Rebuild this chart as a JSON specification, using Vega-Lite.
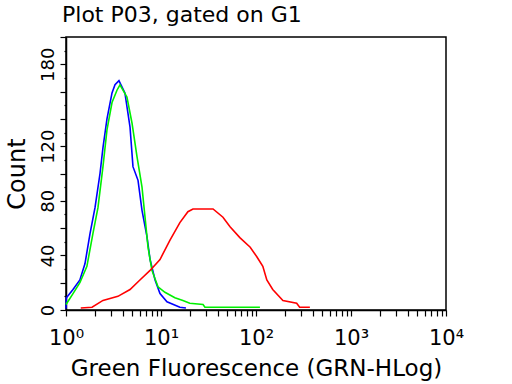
{
  "$schema": "https://vega.github.io/schema/vega-lite/v6.json",
  "width": 380,
  "height": 273,
  "autosize": "none",
  "padding": {"left": 66, "top": 37, "right": 66, "bottom": 74},
  "background": "white",
  "title": {"text": "Plot P03, gated on G1", "anchor": "start", "frame": "group", "dx": -4, "offset": 9, "font": "DejaVu Sans", "fontSize": 22, "fontWeight": "normal", "color": "black"},
  "config": {"view": {"stroke": "black", "strokeWidth": 1.5}},
  "data": {"values": [
    {"series": "blue", "v": 1.0, "count": 1},
    {"series": "blue", "v": 1.01, "count": 9},
    {"series": "blue", "v": 1.185, "count": 15},
    {"series": "blue", "v": 1.40, "count": 22},
    {"series": "blue", "v": 1.585, "count": 34},
    {"series": "blue", "v": 1.79, "count": 56},
    {"series": "blue", "v": 2.02, "count": 75},
    {"series": "blue", "v": 2.28, "count": 100},
    {"series": "blue", "v": 2.45, "count": 119},
    {"series": "blue", "v": 2.70, "count": 140},
    {"series": "blue", "v": 3.05, "count": 159},
    {"series": "blue", "v": 3.28, "count": 165},
    {"series": "blue", "v": 3.61, "count": 168},
    {"series": "blue", "v": 4.17, "count": 159},
    {"series": "blue", "v": 4.72, "count": 134},
    {"series": "blue", "v": 5.07, "count": 105},
    {"series": "blue", "v": 5.73, "count": 95},
    {"series": "blue", "v": 6.31, "count": 73},
    {"series": "blue", "v": 7.11, "count": 54},
    {"series": "blue", "v": 7.67, "count": 37},
    {"series": "blue", "v": 8.66, "count": 22},
    {"series": "blue", "v": 9.76, "count": 12},
    {"series": "blue", "v": 11.56, "count": 6},
    {"series": "blue", "v": 15.8, "count": 2},
    {"series": "blue", "v": 18.3, "count": 1.5},
    {"series": "green", "v": 1.0, "count": 4},
    {"series": "green", "v": 1.185, "count": 12},
    {"series": "green", "v": 1.40, "count": 20},
    {"series": "green", "v": 1.66, "count": 32},
    {"series": "green", "v": 1.92, "count": 56},
    {"series": "green", "v": 2.17, "count": 75},
    {"series": "green", "v": 2.45, "count": 105},
    {"series": "green", "v": 2.70, "count": 132},
    {"series": "green", "v": 3.05, "count": 152},
    {"series": "green", "v": 3.44, "count": 161},
    {"series": "green", "v": 3.70, "count": 165},
    {"series": "green", "v": 4.38, "count": 156},
    {"series": "green", "v": 4.95, "count": 137},
    {"series": "green", "v": 5.6, "count": 112},
    {"series": "green", "v": 6.31, "count": 90},
    {"series": "green", "v": 6.79, "count": 68},
    {"series": "green", "v": 7.30, "count": 46},
    {"series": "green", "v": 8.03, "count": 29},
    {"series": "green", "v": 9.3, "count": 17},
    {"series": "green", "v": 11.0, "count": 13},
    {"series": "green", "v": 14.0, "count": 9},
    {"series": "green", "v": 17.0, "count": 7},
    {"series": "green", "v": 20.1, "count": 5},
    {"series": "green", "v": 27.7, "count": 4},
    {"series": "green", "v": 29.0, "count": 2},
    {"series": "green", "v": 110, "count": 2},
    {"series": "red", "v": 1.43, "count": 1.5},
    {"series": "red", "v": 1.88, "count": 2},
    {"series": "red", "v": 2.45, "count": 7},
    {"series": "red", "v": 3.52, "count": 10},
    {"series": "red", "v": 4.72, "count": 15},
    {"series": "red", "v": 6.0, "count": 22},
    {"series": "red", "v": 7.67, "count": 29},
    {"series": "red", "v": 9.76, "count": 37},
    {"series": "red", "v": 12.4, "count": 51},
    {"series": "red", "v": 15.8, "count": 64},
    {"series": "red", "v": 19.2, "count": 72},
    {"series": "red", "v": 21.7, "count": 74},
    {"series": "red", "v": 35.3, "count": 74},
    {"series": "red", "v": 44.9, "count": 68},
    {"series": "red", "v": 53.3, "count": 61},
    {"series": "red", "v": 67.6, "count": 53},
    {"series": "red", "v": 86.9, "count": 46},
    {"series": "red", "v": 102, "count": 39},
    {"series": "red", "v": 118, "count": 32},
    {"series": "red", "v": 130, "count": 22},
    {"series": "red", "v": 150, "count": 15},
    {"series": "red", "v": 192, "count": 7},
    {"series": "red", "v": 268, "count": 5},
    {"series": "red", "v": 288, "count": 2},
    {"series": "red", "v": 369, "count": 2}
  ]},
  "mark": {"type": "line", "strokeWidth": 1.6, "interpolate": "linear"},
  "encoding": {
    "x": {"field": "v", "type": "quantitative",
      "scale": {"type": "log", "domain": [1, 10000], "nice": false},
      "axis": {
        "title": "Green Fluorescence (GRN-HLog)",
        "values": [1,2,3,4,5,6,7,8,9,10,20,30,40,50,60,70,80,90,100,200,300,400,500,600,700,800,900,1000,2000,3000,4000,5000,6000,7000,8000,9000,10000],
        "labelExpr": "datum.value == 1 ? '10⁰' : datum.value == 10 ? '10¹' : datum.value == 100 ? '10²' : datum.value == 1000 ? '10³' : datum.value == 10000 ? '10⁴' : ''",
        "labelFont": "DejaVu Sans", "labelFontSize": 21, "labelColor": "black", "labelPadding": 11,
        "labelOverlap": false, "labelFlush": false,
        "tickSize": 6, "tickColor": "black", "tickWidth": 1.2,
        "domainColor": "black", "domainWidth": 1.5, "grid": false,
        "titleFont": "DejaVu Sans", "titleFontSize": 23, "titleFontWeight": "normal", "titleColor": "black", "titlePadding": 9
      }},
    "y": {"field": "count", "type": "quantitative",
      "scale": {"domain": [0, 200], "nice": false},
      "axis": {
        "title": "Count",
        "values": [0,10,20,30,40,50,60,70,80,90,100,110,120,130,140,150,160,170,180,190,200],
        "labelExpr": "indexof([0,40,80,120,180], datum.value) >= 0 ? datum.label : ''",
        "labelAngle": -90, "labelAlign": "center", "labelBaseline": "bottom",
        "labelFont": "DejaVu Sans", "labelFontSize": 18, "labelColor": "black", "labelPadding": 3,
        "labelOverlap": false, "labelFlush": false,
        "tickSize": {"condition": {"test": "datum.value % 20 === 0", "value": 6}, "value": 2},
        "tickColor": "black", "tickWidth": 1.2,
        "domainColor": "black", "domainWidth": 1.5, "grid": false,
        "titleFont": "DejaVu Sans", "titleFontSize": 24, "titleFontWeight": "normal", "titleColor": "black", "titlePadding": 10
      }},
    "color": {"field": "series", "type": "nominal",
      "scale": {"domain": ["blue", "green", "red"], "range": ["#0000FF", "#00F000", "#FF0000"]},
      "legend": null}
  }
}
